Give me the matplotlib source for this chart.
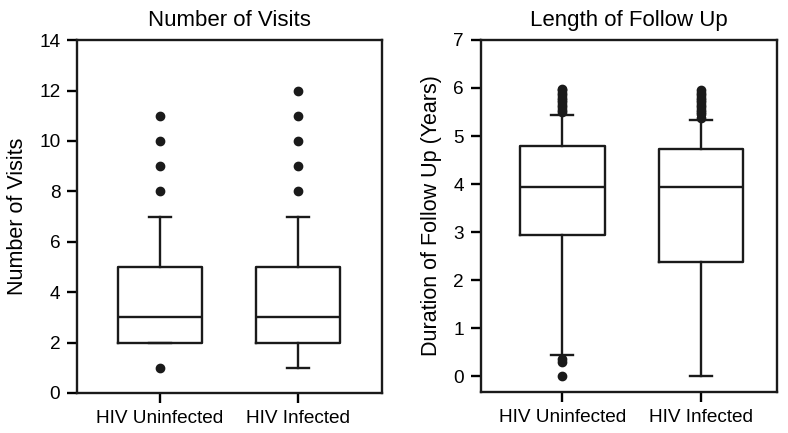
import matplotlib

matplotlib.use("Agg")
import matplotlib.pyplot as plt

plt.rcParams["font.family"] = ["Liberation Sans", "DejaVu Sans"]

groups = ["HIV Uninfected", "HIV Infected"]

# Number of visits: five-number summary + outliers
visits_q1 = [2, 2]
visits_med = [3, 3]
visits_q3 = [5, 5]
visits_lo = [2, 1]
visits_hi = [7, 7]
visits_fliers = [[1, 8, 9, 10, 11], [8, 9, 10, 11, 12]]

# Length of follow-up (years)
fu_q1 = [2.94, 2.38]
fu_med = [3.93, 3.93]
fu_q3 = [4.80, 4.73]
fu_lo = [0.43, 0.0]
fu_hi = [5.44, 5.33]
fu_fliers = [
    [0.0, 0.30, 0.36, 5.50, 5.55, 5.60, 5.65, 5.70, 5.75, 5.80, 5.85, 5.90, 5.95, 5.98],
    [5.38, 5.45, 5.50, 5.55, 5.60, 5.65, 5.70, 5.75, 5.80, 5.85, 5.90, 5.95],
]


def stats(q1, med, q3, lo, hi, fl):
    return [dict(q1=a, med=b, q3=c, whislo=d, whishi=e, fliers=f)
            for a, b, c, d, e, f in zip(q1, med, q3, lo, hi, fl)]


def draw(ax, st, title, ylabel):
    ax.bxp(st, positions=[1, 2], widths=0.61, capwidths=0.16,
           boxprops=dict(color="#1a1a1a", lw=1.7),
           whiskerprops=dict(color="#1a1a1a", lw=1.7),
           capprops=dict(color="#1a1a1a", lw=1.7),
           medianprops=dict(color="#1a1a1a", lw=1.7),
           flierprops=dict(marker="o", markerfacecolor="#1a1a1a",
                           markeredgecolor="#1a1a1a", markersize=6))
    ax.set_xticks([1, 2])
    ax.set_xticklabels(groups)
    ax.set_title(title, fontsize=16, pad=10)
    ax.set_ylabel(ylabel, fontsize=15.5, labelpad=8)
    ax.tick_params(direction="out", length=7, width=1.7, labelsize=13.7, pad=5)
    for s in ax.spines.values():
        s.set_linewidth(1.7)
        s.set_color("#1a1a1a")


fig = plt.figure(figsize=(7.88, 4.33), dpi=100)
ax1 = fig.add_axes([0.0977, 0.0924, 0.387, 0.815])
ax2 = fig.add_axes([0.610, 0.0947, 0.376, 0.813])

draw(ax1, stats(visits_q1, visits_med, visits_q3, visits_lo, visits_hi, visits_fliers),
     "Number of Visits", "Number of Visits")
ax1.set_ylim(0, 14)
ax1.set_yticks(range(0, 15, 2))
ax1.set_xlim(0.40, 2.61)

draw(ax2, stats(fu_q1, fu_med, fu_q3, fu_lo, fu_hi, fu_fliers),
     "Length of Follow Up", "Duration of Follow Up (Years)")
ax2.set_ylim(-0.33, 7)
ax2.set_yticks(range(0, 8))
ax2.set_xlim(0.41, 2.55)

fig.savefig("out.png", dpi=100)
